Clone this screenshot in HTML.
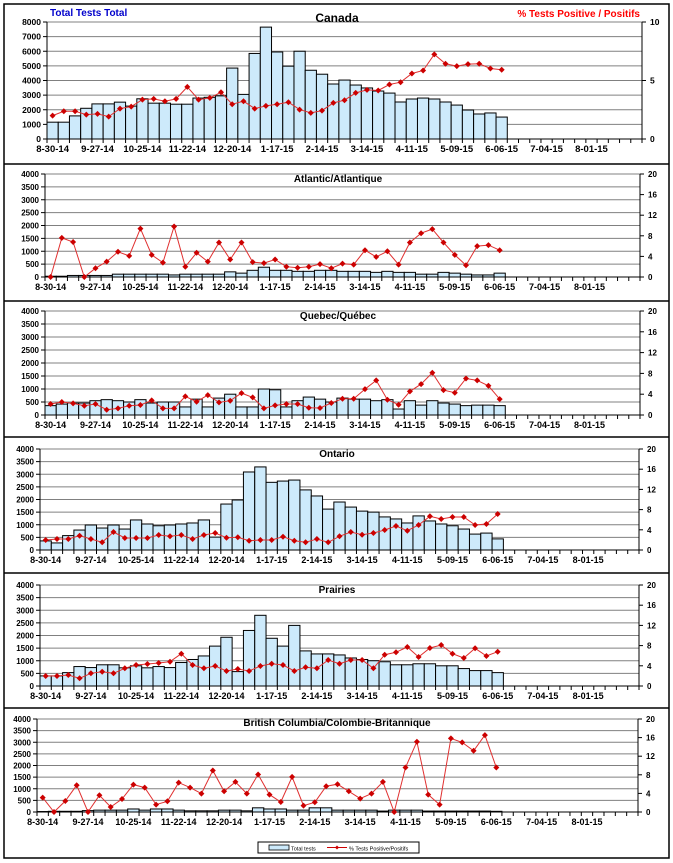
<!DOCTYPE html>
<html><head><meta charset="utf-8"><style>
html,body{margin:0;padding:0;background:#fff;}
svg{display:block;font-family:"Liberation Sans",Arial,sans-serif;}
</style></head><body>
<svg id="s" width="673" height="863" viewBox="0 0 673 863" xmlns="http://www.w3.org/2000/svg"></svg>
<script>
var S=document.getElementById('s');var out='';
function add(t){out+=t;}
add('<rect x="0" y="0" width="673" height="863" fill="#fff"/>');
var labels=['8-30-14','9-27-14','10-25-14','11-22-14','12-20-14','1-17-15','2-14-15','3-14-15','4-11-15','5-09-15','6-06-15','7-04-15','8-01-15'];
function panel(p){
  var L=p.L,R=p.R,T=p.T,B=p.B,n=53,w=(R-L)/n,H=B-T;
  var nt=p.ticks;
  for(var i=0;i<=nt;i++){var y=B-H*i/nt;
    if(i>0)add('<line x1="'+L+'" y1="'+y+'" x2="'+R+'" y2="'+y+'" stroke="#808080" stroke-width="1"/>');
    add('<line x1="'+(L-4)+'" y1="'+y+'" x2="'+L+'" y2="'+y+'" stroke="#000"/>');
    add('<text x="'+(L-6)+'" y="'+(y+3)+'" font-size="'+p.fs+'" font-weight="bold" text-anchor="end">'+(p.lmax*i/nt)+'</text>');
  }
  var rt=p.rticks;
  for(var i=0;i<=rt;i++){var y=B-H*i/rt;
    add('<line x1="'+R+'" y1="'+y+'" x2="'+(R+4)+'" y2="'+y+'" stroke="#000"/>');
    add('<text x="'+(R+8)+'" y="'+(y+3)+'" font-size="'+p.fs+'" font-weight="bold">'+(p.rmax*i/rt)+'</text>');
  }
  for(var i=0;i<p.bars.length;i++){var v=p.bars[i];var h=v/p.lmax*H;
    add('<rect x="'+(L+i*w)+'" y="'+(B-h)+'" width="'+w+'" height="'+h+'" fill="#cdeafb" stroke="#000" stroke-width="1"/>');}
  add('<line x1="'+L+'" y1="'+T+'" x2="'+L+'" y2="'+B+'" stroke="#000"/>');
  add('<line x1="'+R+'" y1="'+T+'" x2="'+R+'" y2="'+B+'" stroke="#000"/>');
  add('<line x1="'+L+'" y1="'+B+'" x2="'+R+'" y2="'+B+'" stroke="#000"/>');
  for(var i=0;i<=n;i++){var x=L+i*w;add('<line x1="'+x+'" y1="'+B+'" x2="'+x+'" y2="'+(B+4)+'" stroke="#000"/>');}
  for(var k=0;k<labels.length;k++){var x=L+(4*k+0.5)*w;
    add('<text x="'+x+'" y="'+(B+13)+'" font-size="'+p.xfs+'" font-weight="bold" text-anchor="middle">'+labels[k]+'</text>');}
  var pts=[];for(var i=0;i<p.line.length;i++){var v=p.line[i];pts.push((L+(i+0.5)*w).toFixed(1)+','+(B-v/p.rmax*H).toFixed(1));}
  add('<polyline points="'+pts.join(' ')+'" fill="none" stroke="#e03030" stroke-width="1"/>');
  for(var i=0;i<pts.length;i++){var a=pts[i].split(',');var x=+a[0],y=+a[1];
    add('<path d="M'+x+' '+(y-3)+'L'+(x+3)+' '+y+'L'+x+' '+(y+3)+'L'+(x-3)+' '+y+'Z" fill="#cc0000"/>');}
  add('<text x="'+p.tx+'" y="'+p.ty+'" font-size="'+p.tfs+'" font-weight="bold" text-anchor="middle">'+p.title+'</text>');
}
function conv(arr,Bz,Rz,max){return arr.map(function(y){return Math.max(0,(Bz-y)/Rz*max);});}
// Canada
panel({L:47,R:642,T:22,B:139,ticks:8,lmax:8000,rticks:2,rmax:10,fs:8.5,xfs:9.5,tfs:12,tx:337,ty:22,title:'Canada',
 bars:[1150,1150,1580,2100,2400,2400,2520,2250,2750,2450,2450,2380,2380,2800,2850,2950,4850,3050,5850,7650,5950,4980,6000,4700,4430,3760,4030,3690,3490,3280,3140,2530,2735,2800,2735,2530,2320,1980,1710,1780,1500],
 line:conv([348,335,335,345,343,351,327,321,300,298,305,298,262,300,295,278,314,305,327,319,314,308,330,340,333,310,302,280,271,273,255,248,222,213,165,193,200,194,193,207,211],418,350,10)});
// Atlantic
panel({L:45,R:640,T:174,B:277,ticks:8,lmax:4000,rticks:5,rmax:20,fs:8,xfs:9,tfs:10,tx:338,ty:182,title:'Atlantic/Atlantique',
 bars:[30,30,60,60,60,60,110,110,110,110,110,80,110,110,110,110,200,150,260,380,260,260,220,220,260,260,220,220,220,180,220,180,180,110,110,180,150,110,80,80,150],
 line:[0,7.6,6.8,0,1.7,3.0,4.9,4.1,9.4,4.3,2.8,9.8,2.0,4.7,3.0,6.7,3.4,6.7,2.9,2.7,3.4,2.0,1.8,2.0,2.5,1.7,2.6,2.4,5.2,3.9,5.0,2.4,6.7,8.5,9.3,6.7,4.3,2.3,6.0,6.2,5.2]});
// Quebec
panel({L:45,R:640,T:311,B:415,ticks:8,lmax:4000,rticks:5,rmax:20,fs:8,xfs:9,tfs:10,tx:338,ty:319,title:'Quebec/Québec',
 bars:[360,420,460,460,550,590,550,500,590,460,500,500,310,610,310,650,800,310,310,1000,970,310,550,690,610,500,650,610,610,550,590,230,550,380,550,460,420,360,380,380,360],
 line:conv([313,307,311,318,313,330,326,318,316,302,326,326,290,306,286,308,303,280,293,326,317,313,313,324,325,310,297,297,268,242,300,315,275,253,219,271,279,236,242,258,298],346,313,20)});
// Ontario
panel({L:40,R:639,T:449,B:550,ticks:8,lmax:4000,rticks:5,rmax:20,fs:8,xfs:9,tfs:10,tx:337,ty:457,title:'Ontario',
 bars:[360,280,570,790,990,870,990,830,1190,1030,960,990,1030,1070,1190,510,1820,1980,3090,3290,2680,2730,2770,2380,2140,1620,1900,1700,1540,1500,1310,1230,1070,1350,1150,1030,960,830,630,670,440],
 line:conv([313,310,310,300,310,320,289,307,307,307,298,302,298,310,298,292,306,305,315,313,313,303,315,320,310,320,302,289,297,292,283,271,285,268,242,250,244,244,268,265,235],343,303,20)});
// Prairies
panel({L:40,R:639,T:585,B:686,ticks:8,lmax:4000,rticks:5,rmax:20,fs:8,xfs:9,tfs:10,tx:337,ty:593,title:'Prairies',
 bars:[400,400,530,770,730,840,840,720,800,720,770,730,930,1050,1190,1580,1930,570,2200,2800,1890,1580,2400,1390,1270,1270,1230,1110,1050,1000,960,840,840,880,880,800,800,690,610,610,530],
 line:conv([313,313,310,320,305,300,305,290,280,277,274,270,246,280,290,283,298,292,298,283,276,280,298,287,290,265,276,265,265,290,249,242,226,256,229,220,246,259,230,253,240],343,303,20)});
// BC
panel({L:37,R:638,T:719,B:812,ticks:8,lmax:4000,rticks:5,rmax:20,fs:8,xfs:9,tfs:10,tx:337,ty:726,title:'British Columbia/Colombie-Britannique',
 bars:[20,30,30,30,60,80,80,80,130,80,130,130,80,50,50,50,80,80,50,180,130,130,80,80,180,180,80,80,80,80,40,80,80,80,40,40,40,40,40,40,30],
 line:conv([292,335,302,255,335,285,320,296,253,262,313,303,247,262,280,211,273,245,280,223,283,305,230,316,306,258,252,273,295,280,245,335,202,125,283,313,115,127,152,105,202],335,278,20)});
// headers
add('<text x="50" y="16" font-size="10" font-weight="bold" fill="#0000cc">Total Tests Total</text>');
add('<text x="640" y="17" font-size="10" font-weight="bold" fill="#ff0000" text-anchor="end">% Tests Positive / Positifs</text>');
// legend
add('<rect x="258" y="842" width="161" height="11" fill="#fff" stroke="#000" stroke-width="1"/>');
add('<rect x="269" y="845" width="20" height="5" fill="#cdeafb" stroke="#000" stroke-width="0.8"/>');
add('<text x="291" y="850.5" font-size="5.5">Total tests</text>');
add('<line x1="327" y1="847.5" x2="347" y2="847.5" stroke="#cc0000"/><path d="M337 845.5L339 847.5L337 849.5L335 847.5Z" fill="#cc0000"/>');
add('<text x="349" y="850.5" font-size="5.5">% Tests Positive/Positifs</text>');
// frame & dividers
add('<rect x="4" y="4" width="665" height="854" fill="none" stroke="#000" stroke-width="1.5"/>');
[164,301,437,573,708].forEach(function(y){add('<line x1="4" y1="'+y+'" x2="669" y2="'+y+'" stroke="#000" stroke-width="1.5"/>');});
S.innerHTML=out;
</script>
</body></html>
